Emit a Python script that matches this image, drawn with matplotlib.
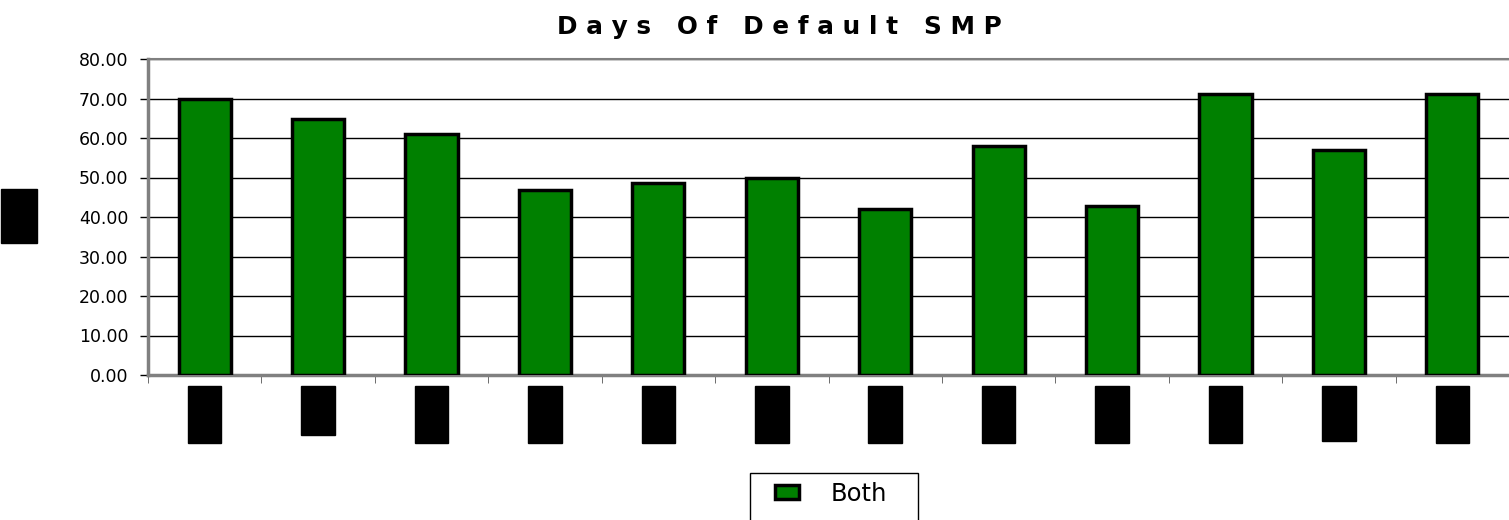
#!/usr/bin/env python3
"""Days Of Default SMP - bar chart recreation."""
import matplotlib
matplotlib.use('Agg')
import matplotlib.pyplot as plt
from matplotlib.patches import Rectangle
import numpy as np

plt.rcParams['font.family'] = ['DejaVu Sans']

# category names are blacked out in the source; placeholders are kept as text
categories = ['Cat01', 'Cat2', 'Cat03', 'Cat04', 'Cat05', 'Cat06',
              'Cat07', 'Cat08', 'Cat09', 'Cat10', 'Cat11', 'Cat12']
both = [70.0, 64.7, 61.1, 46.9, 48.7, 49.8, 42.1, 58.1, 42.7, 71.1, 56.9, 71.1]
y_ticks = [0, 10, 20, 30, 40, 50, 60, 70, 80]
y_label = 'Days'
title = 'Days Of Default SMP'


def main():
    W, H = 1509, 520
    fig = plt.figure(figsize=(W / 100, H / 100), dpi=100)
    ax = fig.add_axes([148 / W, 1 - 375 / H, (W - 148) / W, (375 - 59) / H])

    x = np.arange(len(categories))
    ax.bar(x, both, width=0.46, color='#008000', edgecolor='black',
           linewidth=2.5, label='Both', zorder=3)

    ax.set_xlim(-0.5, len(categories) - 0.5)
    ax.set_ylim(0, 80)
    ax.set_yticks(y_ticks)
    ax.set_yticklabels([f'{v:.2f}' for v in y_ticks], fontsize=12.5)
    ax.yaxis.grid(True, color='black', linewidth=1)
    ax.set_axisbelow(True)
    ax.tick_params(axis='y', length=6, width=1, color='black', pad=8)

    ax.set_xticks(x)
    ax.set_xticklabels(categories, rotation=90, fontsize=10,
                       family='Liberation Sans', color='black')
    for lbl in ax.get_xticklabels():
        lbl.set_bbox(dict(facecolor='black', edgecolor='black', pad=7))
    ax.set_xticks(np.arange(len(categories) + 1) - 0.5, minor=True)
    ax.tick_params(axis='x', which='major', length=0, pad=15)
    ax.tick_params(axis='x', which='minor', length=6, color='#555555')

    for side in ['left', 'bottom', 'top']:
        ax.spines[side].set_color('#808080')
        ax.spines[side].set_linewidth(2.5)
    ax.spines['top'].set_linewidth(1.5)
    ax.spines['right'].set_visible(False)

    t = ax.set_ylabel(y_label, fontsize=10, family='Liberation Sans',
                      color='black', rotation=90)
    t.set_bbox(dict(facecolor='black', edgecolor='black', pad=8))
    ax.yaxis.set_label_coords((26 - 148) / (W - 148), 0.503)

    spaced = '   '.join(' '.join(word) for word in title.split())
    fig.text(779 / W, 1 - 27 / H, spaced, ha='center', va='center',
             fontsize=17.8, fontweight='bold')

    # legend box reaches past the bottom edge as in the source
    fig.patches.append(Rectangle((750 / W, 1 - 530 / H), 168 / W, 57 / H,
                                 transform=fig.transFigure, facecolor='white',
                                 edgecolor='black', linewidth=1))
    fig.legend(loc='center', bbox_to_anchor=(831 / W, 1 - 494 / H),
               fontsize=17.5, frameon=False,
               handlelength=1.0, handleheight=0.5, handletextpad=1.3)

    fig.savefig('out.png', dpi=100)


if __name__ == '__main__':
    main()
